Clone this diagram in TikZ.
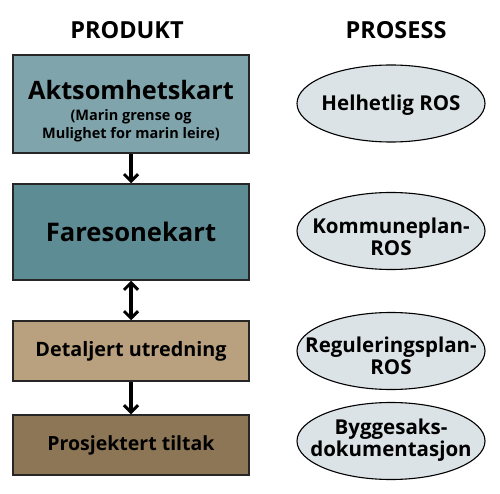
\documentclass[tikz,border=0pt]{standalone}
\usepackage{fontspec}
\setmainfont{Open Sans}
\usetikzlibrary{arrows.meta,shapes.geometric}
\definecolor{boxA}{HTML}{7FA4AB}
\definecolor{boxB}{HTML}{5E8C95}
\definecolor{boxC}{HTML}{B9A07E}
\definecolor{boxD}{HTML}{8C7656}
\definecolor{ellfill}{HTML}{DCE3E6}
\tikzset{
  prodbox/.style={draw=black!85, line width=1.5pt, minimum width=236pt, inner sep=0pt, align=center, font=\bfseries},
  procell/.style={ellipse, draw=black, line width=1.1pt, fill=ellfill, minimum width=188pt, minimum height=77pt, inner sep=0pt},
  proctext/.style={align=center, inner sep=0pt, font=\bfseries\fontsize{20.5}{21.5}\selectfont},
  head/.style={font=\bfseries\fontsize{23.5}{26}\selectfont},
  flow/.style={line width=3.2pt, -{Straight Barb[length=7pt,width=14pt,line width=3pt]}},
  flowboth/.style={line width=3.2pt, {Straight Barb[length=7pt,width=14pt,line width=3pt]}-{Straight Barb[length=7pt,width=14pt,line width=3pt]}}
}
\begin{document}
\begin{tikzpicture}[x=1pt,y=-1pt]
\useasboundingbox[fill=white] (0,0) rectangle (500,494);
\node[head] (hp) at (127,30) {PRODUKT};
\node[head] (hs) at (396,30) {PROSESS};
\node[prodbox, fill=boxA, minimum height=98pt] (a) at (131,104) {};
\node[font=\bfseries\fontsize{25.3}{27}\selectfont] (at) at (131,90) {Aktsomhetskart};
\node[font=\bfseries\fontsize{14.5}{18}\selectfont, align=center] (as) at (131,126) {(Marin grense og\\Mulighet for marin leire)};
\node[prodbox, fill=boxB, minimum height=96pt, font=\bfseries\fontsize{25.6}{27}\selectfont] (b) at (131,232) {Faresonekart};
\node[prodbox, fill=boxC, minimum height=60pt, font=\bfseries\fontsize{19.8}{21}\selectfont] (c) at (131,351) {Detaljert utredning};
\node[prodbox, fill=boxD, minimum height=60pt, font=\bfseries\fontsize{19.5}{21}\selectfont] (d) at (131,445) {Prosjektert tiltak};
\draw[flow] (a.south) -- (b.north);
\draw[flowboth] (b.south) -- (c.north);
\draw[flow] (c.south) -- (d.north);
\node[procell] (e1) at (391,103.5) {};
\node[proctext] (t1) at (391,105) {Helhetlig ROS};
\node[procell] (e2) at (391,231) {};
\node[proctext] (t2) at (391,237) {Kommuneplan-\\ROS};
\node[procell] (e3) at (391,351) {};
\node[proctext] (t3) at (391,356) {Reguleringsplan-\\ROS};
\node[procell] (e4) at (391,441) {};
\node[proctext] (t4) at (391,440) {Byggesaks-\\dokumentasjon};
\end{tikzpicture}
\end{document}
